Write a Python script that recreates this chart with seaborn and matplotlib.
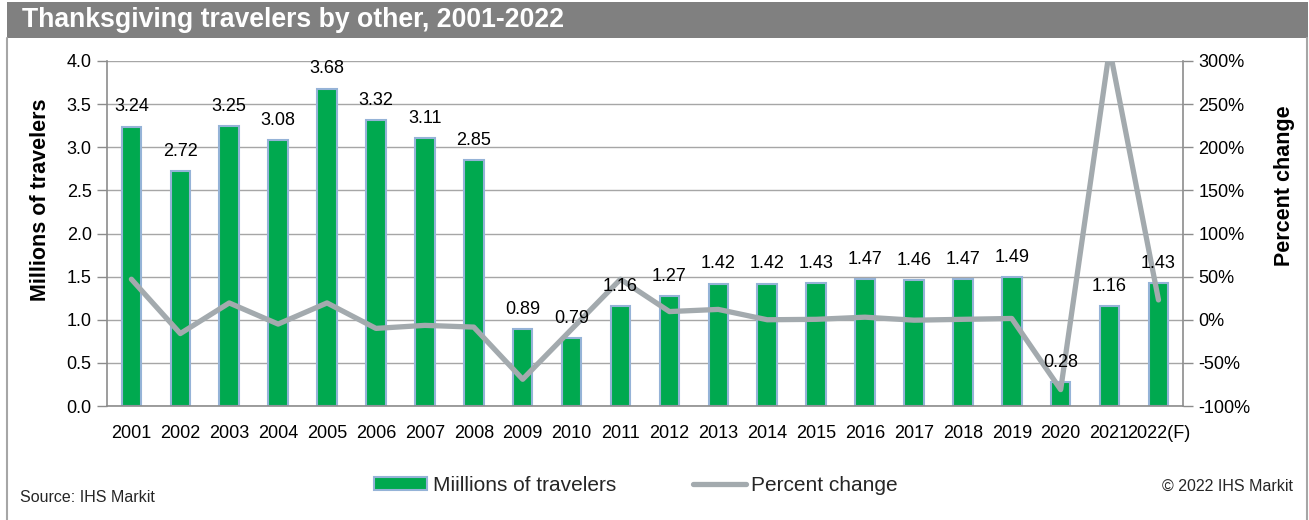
import matplotlib
matplotlib.use("Agg")
import matplotlib.pyplot as plt
import seaborn as sns
import pandas as pd
from matplotlib.lines import Line2D
from matplotlib.patches import Patch, Rectangle
from matplotlib.ticker import FuncFormatter, FixedLocator

sns.set_theme(style="white")
plt.rcParams["font.family"] = ["Liberation Sans", "DejaVu Sans"]

# Thanksgiving travelers by "other" modes
years = ["2001", "2002", "2003", "2004", "2005", "2006", "2007", "2008",
         "2009", "2010", "2011", "2012", "2013", "2014", "2015", "2016",
         "2017", "2018", "2019", "2020", "2021", "2022(F)"]
travelers = [3.24, 2.72, 3.25, 3.08, 3.68, 3.32, 3.11, 2.85,
             0.89, 0.79, 1.16, 1.27, 1.42, 1.42, 1.43, 1.47,
             1.46, 1.47, 1.49, 0.28, 1.16, 1.43]
pct_change = [47, -16, 19.5, -5, 19.5, -10, -6.5, -8.5,
              -69, -11, 47, 9.5, 12, 0, 0.5, 3,
              -0.5, 0.5, 1.5, -81, 314, 23]

df = pd.DataFrame({"year": years, "travelers": travelers, "pct": pct_change})

BAR_GREEN = "#00A94F"
BAR_EDGE = "#95B3D7"
LINE_GRAY = "#A3AAAE"
AXIS_GRAY = "#8C8C8C"
GRID_GRAY = "#A6A6A6"

fig = plt.figure(figsize=(13.09, 5.2), dpi=100)
ax = fig.add_axes([0.0817, 0.2192, 0.822, 0.6635])

sns.barplot(data=df, x="year", y="travelers", color=BAR_GREEN, width=0.4,
            edgecolor=BAR_EDGE, linewidth=1.5, saturation=1, ax=ax, zorder=2)
ax.set_ylim(0, 4.0)
ax.set_xlim(-0.5, len(years) - 0.5)
ax.set_yticks([0.0, 0.5, 1.0, 1.5, 2.0, 2.5, 3.0, 3.5, 4.0])
ax.yaxis.set_major_formatter(FuncFormatter(lambda v, p: f"{v:.1f}"))
ax.yaxis.grid(True, color=GRID_GRAY, linewidth=1.0, zorder=0)
ax.set_axisbelow(True)
ax.set_xlabel("")
ax.set_ylabel("Millions of travelers", fontsize=15.5, fontweight="bold",
              color="black")
ax.yaxis.set_label_coords(-0.052, 0.597)

# Category boundary ticks on the x-axis
ax.xaxis.set_minor_locator(FixedLocator([i - 0.5 for i in range(len(years) + 1)]))
ax.tick_params(axis="x", which="major", length=0, pad=14, labelsize=13, colors="black")
ax.tick_params(axis="x", which="minor", length=6, color=AXIS_GRAY, width=1)
ax.tick_params(axis="y", which="major", length=7, color=AXIS_GRAY, width=1,
               labelsize=13, labelcolor="black", pad=4)

for side in ["top", "right"]:
    ax.spines[side].set_visible(False)
for side in ["left", "bottom"]:
    ax.spines[side].set_color(AXIS_GRAY)
    ax.spines[side].set_linewidth(1.2)

# Percent change on the secondary axis
ax2 = ax.twinx()
sns.lineplot(x=list(range(len(years))), y=df["pct"], color=LINE_GRAY,
             linewidth=3.8, ax=ax2, zorder=3, legend=False)
ax2.set_ylim(-100, 300)
ax2.set_yticks(range(-100, 301, 50))
ax2.yaxis.set_major_formatter(FuncFormatter(lambda v, p: f"{int(v)}%"))
ax2.tick_params(axis="y", length=7, color=AXIS_GRAY, width=1,
                labelsize=13, labelcolor="black", pad=4)
ax2.set_ylabel("Percent change", fontsize=15.5, fontweight="bold",
               color="black")
ax2.yaxis.set_label_coords(1.085, 0.64)
for side in ["top", "left", "bottom"]:
    ax2.spines[side].set_visible(False)
ax2.spines["right"].set_color(AXIS_GRAY)
ax2.spines["right"].set_linewidth(1.2)
ax2.set_xlim(-0.5, len(years) - 0.5)

# Value labels above bars, drawn over the line
for i, v in enumerate(travelers):
    ax2.annotate(f"{v:.2f}", xy=(i, -100 + v * 100), xytext=(0, 8),
                 textcoords="offset points", ha="center", va="bottom",
                 fontsize=13, color="black", zorder=5)

# Title banner
fig.patches.append(Rectangle((0.0053, 0.927), 0.9939, 0.069,
                             transform=fig.transFigure, facecolor="#808080",
                             edgecolor="none", zorder=0))
fig.text(0.0168, 0.961, "Thanksgiving travelers by other, 2001-2022",
         fontsize=19.2, fontweight="bold", color="white", va="center", ha="left")

# Frame sides
for xf in (0.0053, 0.9985):
    fig.add_artist(Line2D([xf, xf], [0.0, 0.927], transform=fig.transFigure,
                          color="#A6A6A6", linewidth=1.5))

# Legend
handles = [Patch(facecolor=BAR_GREEN, edgecolor=BAR_EDGE, linewidth=1.5),
           Line2D([0], [0], color=LINE_GRAY, linewidth=3.8)]
fig.legend(handles, ["Miillions of travelers", "Percent change"],
           loc="center", bbox_to_anchor=(0.486, 0.066), ncol=2, frameon=False,
           fontsize=15, handlelength=2.55, handleheight=0.6, columnspacing=3.7,
           handletextpad=0.25)

fig.text(0.0153, 0.044, "Source: IHS Markit", fontsize=11.5, ha="left", va="center")
fig.text(0.9875, 0.065, "\u00a9 2022 IHS Markit", fontsize=11.5, ha="right", va="center")

fig.savefig("out.png", dpi=100)
